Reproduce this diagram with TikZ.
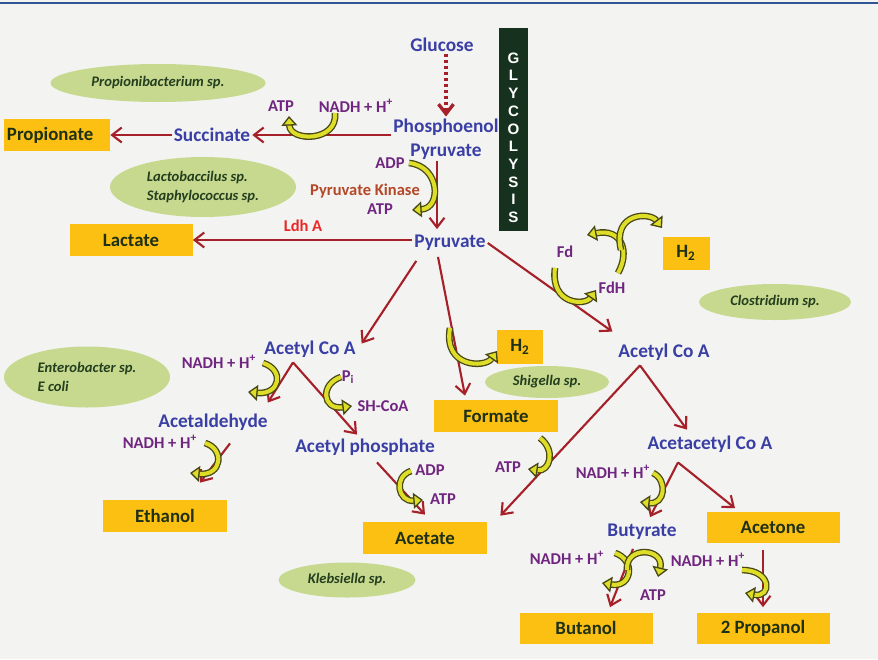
\documentclass[tikz,border=0pt]{standalone}
\usepackage{fontspec}
\setmainfont{Carlito}
\newfontfamily\glyfont{Liberation Sans}
\usetikzlibrary{arrows.meta,calc,shapes.geometric}
\newdimen\pxu \pxu=0.02cm
\definecolor{bgcol}{RGB}{243,243,241}
\definecolor{topblue}{RGB}{47,85,151}
\definecolor{metblue}{RGB}{58,63,165}
\definecolor{cofpurp}{RGB}{112,38,128}
\definecolor{rxncol}{RGB}{165,32,40}
\definecolor{ldhred}{RGB}{232,40,40}
\definecolor{kinred}{RGB}{180,72,40}
\definecolor{boxor}{RGB}{252,192,18}
\definecolor{boxtx}{RGB}{30,48,22}
\definecolor{bugcol}{RGB}{198,217,143}
\definecolor{bugtx}{RGB}{36,62,30}
\definecolor{glycol}{RGB}{22,50,30}
\definecolor{yfill}{RGB}{222,222,40}
\definecolor{ydark}{RGB}{72,72,22}
\tikzset{
  met/.style={text=metblue, font=\bfseries\fontsize{11}{13.7}\selectfont, inner sep=1pt, align=center},
  cof/.style={text=cofpurp, font=\bfseries\fontsize{9.4}{11}\selectfont, inner sep=1pt},
  prod/.style={fill=boxor, text=boxtx, font=\bfseries\fontsize{10.7}{12}\selectfont, inner sep=0pt, minimum height=32*\pxu},
  bug/.style={ellipse, fill=bugcol, text=bugtx, font=\bfseries\itshape\fontsize{8.3}{11}\selectfont, inner sep=0pt, align=left},
  glet/.style={text=white, font=\glyfont\bfseries\fontsize{8.6}{9}\selectfont, inner sep=0pt},
  rxn/.style={draw=rxncol, line width=1.2pt, -{Straight Barb[length=5.5pt,width=8.5pt]}},
  rxndot/.style={rxn, line width=1.9pt, dash pattern=on 1.7pt off 1.7pt},
  yarr/.style={draw=ydark, line width=0.75pt, double=yfill, double distance=2.3pt, -{Triangle[length=5.5pt,width=9pt,fill=yfill,line width=0.75pt]}}
}

\begin{document}
\begin{tikzpicture}[x=0.02cm, y=-0.02cm]
	%%%%% START %%%%%
	
	\fill[bgcol] (0,0) rectangle (878,659);
	\useasboundingbox (0,0) rectangle (878,659);
	\draw[topblue, line width=1.2pt] (0,3) -- (878,3);
	
	% glycolysis bar
	\node[fill=glycol, minimum width=29*\pxu, minimum height=203*\pxu, inner sep=0pt] (glyc) at (513.5,129.5) {};
	\foreach \ch [count=\i from 0] in {G,L,Y,C,O,L,Y,S,I,S}
		\node[glet] (g\i) at (513.5,{58+17.7*\i}) {\ch};
	
	% organisms
	\node[bug, minimum width=215*\pxu, minimum height=38*\pxu] (propb) at (158,83) {Propionibacterium sp.};
	\node[bug, minimum width=186*\pxu, minimum height=60*\pxu] (lacb) at (203,187) {Lactobaccilus sp.\\Staphylococcus sp.};
	\node[bug, minimum width=152*\pxu, minimum height=36*\pxu] (clos) at (775,302) {Clostridium sp.};
	\node[bug, minimum width=166*\pxu, minimum height=61*\pxu] (entb) at (87,377) {Enterobacter sp.\\E coli};
	\node[bug, minimum width=124*\pxu, minimum height=32*\pxu] (shig) at (547,382) {Shigella sp.};
	\node[bug, minimum width=137*\pxu, minimum height=35*\pxu] (kleb) at (347,580) {Klebsiella sp.};
	
	% metabolites
	\node[met] (glc) at (442,45) {Glucose};
	\node[met] (pep) at (446,139) {Phosphoenol\\Pyruvate};
	\node[met] (suc) at (212,135) {Succinate};
	\node[met] (pyr) at (450,243) {Pyruvate};
	\node[met] (acal) at (310,349) {Acetyl Co A};
	\node[met] (acar) at (664,352) {Acetyl Co A};
	\node[met] (ald) at (213,422) {Acetaldehyde};
	\node[met] (acp) at (365,447) {Acetyl phosphate};
	\node[met] (aac) at (710,444) {Acetacetyl Co A};
	\node[met] (but) at (642,532) {Butyrate};
	
	% end products
	\node[prod, minimum width=106*\pxu, text width=100*\pxu] (propi) at (57,135) {Propionate};
	\node[prod, minimum width=123*\pxu] (lac) at (131,240) {Lactate};
	\node[prod, minimum width=47*\pxu, minimum height=33*\pxu] (h2a) at (686,253) {H\textsubscript{2}};
	\node[prod, minimum width=46*\pxu, minimum height=34*\pxu] (h2b) at (520,347) {H\textsubscript{2}};
	\node[prod, minimum width=124*\pxu] (form) at (496,416) {Formate};
	\node[prod, minimum width=124*\pxu] (eth) at (165,516) {Ethanol};
	\node[prod, minimum width=124*\pxu] (acet) at (425,538) {Acetate};
	\node[prod, minimum width=133*\pxu, minimum height=31*\pxu] (acetn) at (773,527) {Acetone};
	\node[prod, minimum width=133*\pxu, minimum height=31*\pxu] (buol) at (586,628) {Butanol};
	\node[prod, minimum width=133*\pxu, minimum height=31*\pxu] (prop2) at (763,628) {2 Propanol};
	
	% cofactors and enzymes
	\node[cof] (atp1) at (281,106) {ATP};
	\node[cof] (nadh1) at (356,106) {NADH + H\textsuperscript{+}};
	\node[cof] (adp1) at (390,163) {ADP};
	\node[cof, text=kinred] (pk) at (365,191) {Pyruvate Kinase};
	\node[cof] (atp2) at (380,209) {ATP};
	\node[cof, text=ldhred] (ldh) at (303,226) {Ldh A};
	\node[cof] (fd) at (565,252) {Fd};
	\node[cof] (fdh) at (612,288) {FdH};
	\node[cof] (nadh2) at (219,362) {NADH + H\textsuperscript{+}};
	\node[cof] (pi) at (348,377) {P\textsubscript{i}};
	\node[cof] (shcoa) at (383,406) {SH-CoA};
	\node[cof] (nadh3) at (160,442) {NADH + H\textsuperscript{+}};
	\node[cof] (adp2) at (430,470) {ADP};
	\node[cof] (atp3) at (443,499) {ATP};
	\node[cof] (atp4) at (508,467) {ATP};
	\node[cof] (nadh4) at (613,472) {NADH + H\textsuperscript{+}};
	\node[cof] (nadh5) at (567,558) {NADH + H\textsuperscript{+}};
	\node[cof] (atp5) at (653,595) {ATP};
	\node[cof] (nadh6) at (708,560) {NADH + H\textsuperscript{+}};
	
	% pathway arrows
	\draw[rxndot] (glc.south -| pep.north) -- (pep.north);
	\draw[rxn] (pep.west |- suc.east) -- (suc.east);
	\draw[rxn] (suc.west) -- (propi.east);
	\draw[rxn] ($(pep.south)+(-9,0)$) -- ($(pyr.north)+(-13,-4)$);
	\draw[rxn] (pyr.west |- lac.east) -- (lac.east);
	\draw[rxn] (pyr.east) -- ($(acar.north west)+(-4,-10)$);
	\draw[rxn] ($(pyr.south west)+(4,8)$) -- ($(acal.north east)+(4,5)$);
	\draw[rxn] ($(pyr.south)+(-12,4)$) -- ($(form.north)+(-31,-4)$);
	\coordinate (apl) at ($(acal.south)+(-17,3)$);
	\draw[rxn] (apl) -- ($(ald.north east)+(-2,-9)$);
	\draw[rxn] (apl) -- ($(acp.north)+(-8,-2)$);
	\draw[rxn] ($(ald.south)+(17,11)$) -- ($(eth.north)+(35,-17)$);
	\draw[rxn] ($(acp.south)+(12,5)$) -- ($(acet.north)+(0,-7)$);
	\coordinate (apr) at ($(acar.south)+(-24,3)$);
	\draw[rxn] (apr) -- ($(acet.north east)+(13,-6)$);
	\draw[rxn] (apr) -- ($(aac.north)+(-23,-4)$);
	\coordinate (apa) at ($(aac.south)+(-32,8)$);
	\draw[rxn] (apa) -- ($(but.north)+(8,-5)$);
	\draw[rxn] (apa) -- ($(acetn.north)+(-38,-3)$);
	\draw[rxn] ($(but.south)+(-9,7)$) -- ($(buol.north)+(24,-5)$);
	\draw[rxn] ($(acetn.south)+(-10,7)$) -- ($(prop2.north)+(0,-5)$);
	
	% cofactor turns
	\draw[yarr] (335,113) .. controls (338,142) and (290,142) .. (289,116);
	\draw[yarr] (409,163) .. controls (440,166) and (442,208) .. (412,210);
	\draw[yarr] (555,268) .. controls (550,305) and (585,306) .. (596,290);
	\draw[yarr] (618,273) .. controls (630,252) and (622,228) .. (587,235);
	\draw[yarr] (621,250) .. controls (612,212) and (650,212) .. (662,228);
	\draw[yarr] (450,328) .. controls (443,368) and (485,368) .. (497,351);
	\draw[yarr] (263,363) .. controls (285,370) and (280,395) .. (248,392);
	\draw[yarr] (341,377) .. controls (320,384) and (322,410) .. (352,406);
	\draw[yarr] (205,443) .. controls (225,449) and (222,476) .. (190,473);
	\draw[yarr] (411,471) .. controls (393,477) and (398,502) .. (423,500);
	\draw[yarr] (540,438) .. controls (556,450) and (550,472) .. (528,469);
	\draw[yarr] (653,473) .. controls (668,480) and (665,505) .. (640,502);
	\draw[yarr] (615,553) .. controls (636,560) and (632,588) .. (602,583);
	\draw[yarr] (627,570) .. controls (625,545) and (665,548) .. (658,577);
	\draw[yarr] (742,570) .. controls (772,570) and (772,598) .. (745,593);
	
	%%%%% END %%%%%
\end{tikzpicture}
\end{document}
